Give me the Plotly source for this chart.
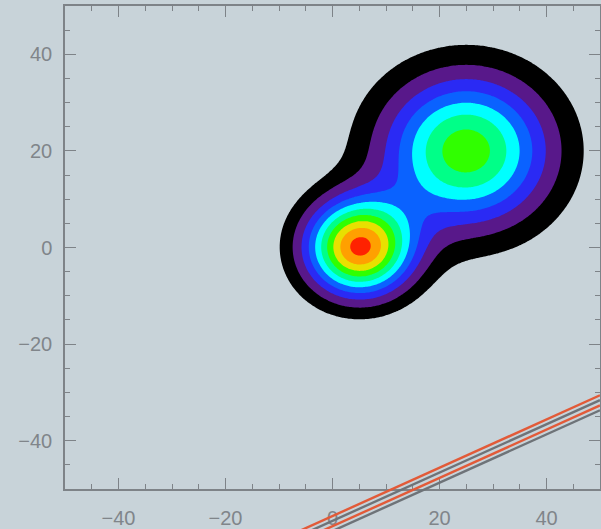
import numpy as np
import plotly.graph_objects as go

# ---- data ----
x_range = [-50, 50]
y_range = [-50, 50]
tick_vals = [-40, -20, 0, 20, 40]

# two gaussian peaks: centre x, centre y, amplitude, sigma
peak_x = [5.0, 25.0]
peak_y = [0.0, 20.0]
peak_amp = [1.01, 0.76]
peak_sigma = [6.9, 10.9]

levels_start, levels_end, levels_step = 0.1, 1.0, 0.1

band_colors = [
    "#c8d3d9",  # below first level (background)
    "#000000",
    "#58188a",
    "#2a2af4",
    "#0a62ff",
    "#00ffff",
    "#00ff88",
    "#30ff00",
    "#e8e000",
    "#ffa000",
    "#ff2200",
]

# straight lines in lower right: slope and intercepts
line_slope = 0.5
line_intercepts = [-55.6, -56.6, -57.7, -58.7]
line_colors = ["#e25a38", "#6e7378", "#e25a38", "#6e7378"]
line_x = [-25, 50]

# ---- grid ----
gx = np.linspace(x_range[0], x_range[1], 301)
gy = np.linspace(y_range[0], y_range[1], 301)
X, Y = np.meshgrid(gx, gy)
Z = np.zeros_like(X)
for cx, cy, a, s in zip(peak_x, peak_y, peak_amp, peak_sigma):
    Z += a * np.exp(-((X - cx) ** 2 + (Y - cy) ** 2) / (2 * s ** 2))

n = len(band_colors) - 1
colorscale = [[i / n, c] for i, c in enumerate(band_colors)]

bg = "#c8d3d9"
axis_col = "#7e8388"
font_col = "#80858a"

fig = go.Figure()
fig.add_trace(go.Contour(
    x=gx, y=gy, z=Z,
    contours=dict(start=levels_start, end=levels_end, size=levels_step, coloring="fill"),
    colorscale=colorscale,
    line=dict(width=0, smoothing=1.3),
    showscale=False,
    hoverinfo="skip",
))

# lines (clipped only horizontally so they can run past the bottom axis)
yspan = y_range[1] - y_range[0]
for b, c in zip(line_intercepts, line_colors):
    y0 = line_slope * line_x[0] + b
    y1 = line_slope * line_x[1] + b
    fig.add_shape(type="line", xref="x", yref="y domain",
                  x0=line_x[0], x1=line_x[1],
                  y0=(y0 - y_range[0]) / yspan, y1=(y1 - y_range[0]) / yspan,
                  line=dict(color=c, width=2.4), layer="above")

axis_common = dict(
    showgrid=False, zeroline=False, showline=True, linecolor=axis_col, linewidth=1.5,
    mirror="allticks", ticks="inside", ticklen=11, tickwidth=1.2, tickcolor=axis_col,
    tickvals=tick_vals, automargin=False,
    minor=dict(dtick=5, ticks="inside", ticklen=5, tickwidth=1.2, tickcolor=axis_col),
    tickfont=dict(family="Liberation Sans", size=20, color=font_col),
)
fig.update_xaxes(range=x_range, ticklabelstandoff=10, **axis_common)
fig.update_yaxes(range=y_range, ticklabelstandoff=7, **axis_common)

fig.update_layout(
    width=601, height=529,
    margin=dict(l=65, r=1, t=6, b=40),
    paper_bgcolor=bg, plot_bgcolor=bg,
    showlegend=False,
)
fig.write_html("out.html", config={"displayModeBar": False},
               post_script="document.body.style.margin='0';document.body.style.overflow='hidden';")
